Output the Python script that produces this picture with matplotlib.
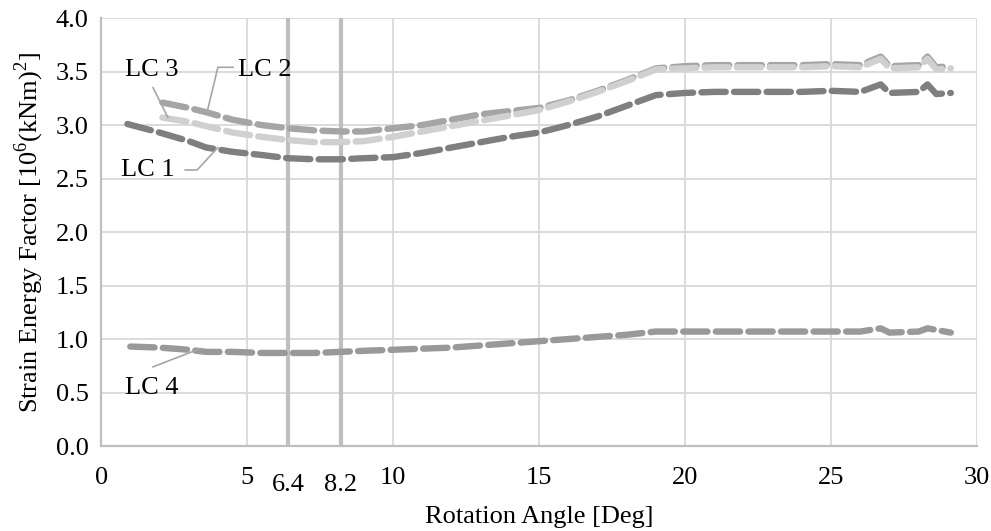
import matplotlib
matplotlib.use("Agg")
import matplotlib.pyplot as plt
import matplotlib.transforms as mtransforms
import numpy as np

plt.rcParams['font.family'] = ['Liberation Serif', 'DejaVu Serif']
plt.rcParams['mathtext.fontset'] = 'custom'
plt.rcParams['mathtext.rm'] = 'Liberation Serif'

# ---- data ----
lc1_x = [0.9, 2, 3, 3.6, 4.5, 5.5, 6.4, 7.3, 8.2, 9, 10, 11, 12, 13, 14, 15, 16, 17, 18, 19,
         20, 21, 22, 23, 24, 25, 26, 26.7, 27, 28, 28.3, 28.6, 29.1]
lc1_y = [3.01, 2.93, 2.85, 2.79, 2.75, 2.72, 2.69, 2.68, 2.68, 2.69, 2.70, 2.74, 2.79, 2.84, 2.89, 2.93,
         3.00, 3.08, 3.18, 3.28, 3.30, 3.31, 3.31, 3.31, 3.31, 3.32, 3.31, 3.38, 3.30, 3.31, 3.38, 3.29, 3.30]

lc2_x = [2.1, 3, 3.6, 4.5, 5.5, 6.4, 7.3, 8.2, 9, 10, 11, 12, 13, 14, 15, 16, 17, 18, 19,
         20, 21, 22, 23, 24, 25, 26, 26.7, 27, 28, 28.3, 28.6, 29.1]
lc2_y = [3.21, 3.16, 3.12, 3.05, 3.00, 2.97, 2.95, 2.94, 2.94, 2.97, 3.00, 3.05, 3.10, 3.13, 3.16, 3.23,
         3.32, 3.42, 3.53, 3.55, 3.56, 3.56, 3.56, 3.56, 3.57, 3.56, 3.64, 3.55, 3.56, 3.64, 3.54, 3.55]

lc3_x = [2.1, 3, 3.6, 4.5, 5.5, 6.4, 7.3, 8.2, 9, 10, 11, 12, 13, 14, 15, 16, 17, 18, 19,
         20, 21, 22, 23, 24, 25, 26, 26.7, 27, 28, 28.3, 28.6, 29.1]
lc3_y = [3.07, 3.03, 2.99, 2.93, 2.89, 2.86, 2.84, 2.84, 2.85, 2.89, 2.94, 2.99, 3.04, 3.09, 3.14, 3.22,
         3.31, 3.41, 3.52, 3.53, 3.54, 3.54, 3.54, 3.54, 3.55, 3.54, 3.62, 3.53, 3.54, 3.62, 3.52, 3.53]

lc4_x = [1.0, 2, 3, 3.6, 4.5, 5.5, 6.4, 7.3, 8.2, 9, 10, 11, 12, 13, 14, 15, 16, 17, 18, 19,
         20, 21, 22, 23, 24, 25, 26, 26.7, 27, 28, 28.3, 29.1]
lc4_y = [0.93, 0.92, 0.90, 0.88, 0.88, 0.87, 0.87, 0.87, 0.88, 0.89, 0.90, 0.91, 0.92, 0.94, 0.96, 0.98,
         1.00, 1.02, 1.04, 1.07, 1.07, 1.07, 1.07, 1.07, 1.07, 1.07, 1.07, 1.10, 1.06, 1.07, 1.10, 1.06]

ref_lines = [6.4, 8.2]
x_ticks = [0, 5, 6.4, 8.2, 10, 15, 20, 25, 30]
x_tick_labels = ['0', '5', '6.4', '8.2', '10', '15', '20', '25', '30']
y_ticks = [0.0, 0.5, 1.0, 1.5, 2.0, 2.5, 3.0, 3.5, 4.0]

FS = 19

fig = plt.figure(figsize=(9.91, 5.31), dpi=100)
ax = fig.add_axes([0.102, 0.160, 0.884, 0.806])

grid_c = '#d9d9d9'
for gx in [5, 10, 15, 20, 25, 30]:
    ax.axvline(gx, color=grid_c, lw=1.3, zorder=0)
for gy in y_ticks[1:]:
    ax.axhline(gy, color=grid_c, lw=1.3, zorder=0)
for rx in ref_lines:
    ax.axvline(rx, color='#bfbfbf', lw=3.0, zorder=1)

dash = (0, (3.8, 1.3))
common = dict(lw=4.6, linestyle=dash, dash_capstyle='round', solid_capstyle='round', zorder=3)
ax.plot(lc4_x, lc4_y, color='#999999', **common)
ax.plot(lc1_x, lc1_y, color='#7f7f7f', **common)
ax.plot(lc2_x, lc2_y, color='#a5a5a5', **common)
ax.plot(lc3_x, lc3_y, color='#d0d0d0', **common)

ax.set_xlim(0, 30)
ax.set_ylim(0, 4.0)
ax.set_xticks(x_ticks)
ax.set_xticklabels(x_tick_labels)
ax.set_yticks(y_ticks)
ax.set_yticklabels([f'{v:.1f}' for v in y_ticks])
ax.tick_params(axis='x', length=0, labelsize=FS, pad=15, colors='black')
ax.tick_params(axis='y', length=0, labelsize=FS, pad=9, colors='black')

# the 6.4 and 8.2 labels sit a little lower in the reference
for lab in ax.get_xticklabels():
    if lab.get_text() in ('6.4', '8.2'):
        lab.set_transform(lab.get_transform() + mtransforms.ScaledTranslation(0, -5 / 72, fig.dpi_scale_trans))

for s in ['top', 'right']:
    ax.spines[s].set_visible(False)
for s in ['left', 'bottom']:
    ax.spines[s].set_color('#bfbfbf')
    ax.spines[s].set_linewidth(1.6)

ax.set_xlabel('Rotation Angle [Deg]', fontsize=FS, va='center')
ax.xaxis.set_label_coords(0.5, -0.165)
ax.set_ylabel(r'Strain Energy Factor [10$^{6}$(kNm)$^{2}$]', fontsize=FS, labelpad=7)

# annotation labels with leader lines
lead_c = '#a6a6a6'
ax.plot([1.78, 2.29], [3.35, 3.07], color=lead_c, lw=1.2, zorder=4)
ax.text(1.75, 3.51, 'LC 3', fontsize=FS, ha='center', va='center')
ax.plot([4.52, 4.0, 3.63], [3.54, 3.54, 3.12], color=lead_c, lw=1.2, zorder=4)
ax.text(5.6, 3.51, 'LC 2', fontsize=FS, ha='center', va='center')
ax.plot([2.88, 3.29, 4.0], [2.58, 2.58, 2.79], color=lead_c, lw=1.2, zorder=4)
ax.text(1.6, 2.58, 'LC 1', fontsize=FS, ha='center', va='center')
ax.plot([1.78, 3.39], [0.74, 0.91], color=lead_c, lw=1.2, zorder=4)
ax.text(1.75, 0.54, 'LC 4', fontsize=FS, ha='center', va='center')

fig.savefig('out.png', dpi=100)
